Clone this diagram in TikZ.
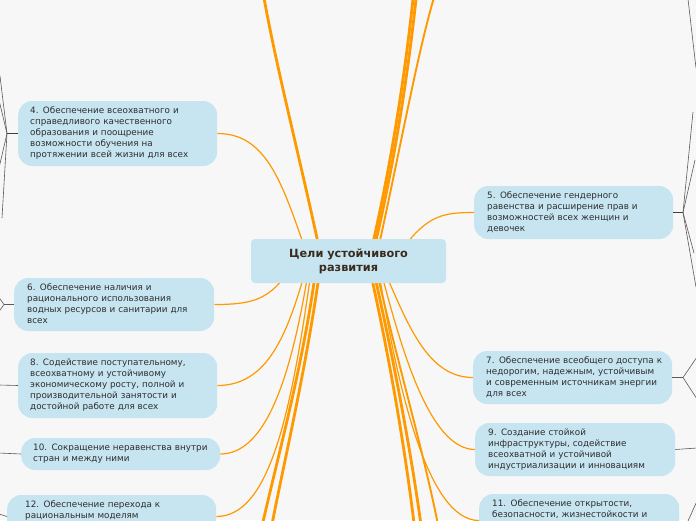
\documentclass[tikz,border=0pt]{standalone}
\usepackage{fontspec}
\setmainfont{DejaVu Sans}
\pgfdeclarelayer{back}
\pgfdeclarelayer{bg}
\pgfsetlayers{back,bg,main}
\definecolor{bgc}{HTML}{F7F7F7}
\definecolor{boxc}{HTML}{C6E5F0}
\definecolor{orc}{HTML}{FF9900}
\definecolor{txc}{HTML}{2E2E2E}
\definecolor{roottx}{HTML}{3B2A1E}
\definecolor{grc}{HTML}{5A5A5A}
\newcommand\gtext[1]{\begin{tabular}{@{}l@{}}#1\end{tabular}}
\begin{document}
\begin{tikzpicture}[x=1pt,y=-1pt,
  goal/.style={fill=boxc, rounded corners=14pt, text=txc, align=left,
    font=\fontsize{8.8}{11}\selectfont, inner ysep=0pt, anchor=west},
  rootbox/.style={fill=boxc, rounded corners=4pt, text=roottx, align=center,
    font=\fontsize{11.3}{14}\selectfont\bfseries, minimum width=195pt,
    minimum height=44pt, inner sep=0pt},
  oline/.style={draw=orc, line width=1.2pt},
  othick/.style={draw=orc, line width=2.8pt},
  omid/.style={draw=orc, line width=1.9pt},
  gline/.style={draw=grc, line width=0.6pt},
  gstub/.style={draw=black!75, line width=1.1pt}]
\useasboundingbox (0,0) rectangle (696,520);
\begin{pgfonlayer}{back}
  \fill[bgc] (0,0) rectangle (696,520);
\end{pgfonlayer}

% root
\node[rootbox] (root) at (348.5,261) {Цели устойчивого\\развития};

% goals left
\node[goal, text width=175pt, inner xsep=12pt, minimum height=65pt] (g4) at (18,133.5)
  {\gtext{4. Обеспечение всеохватного и\\справедливого качественного\\образования и поощрение\\возможности обучения на\\протяжении всей жизни для всех}};
\node[goal, text width=174pt, inner xsep=13pt, minimum height=53pt] (g6) at (14,304.5)
  {\gtext{6. Обеспечение наличия и\\рационального использования\\водных ресурсов и санитарии для\\всех}};
\node[goal, text width=175pt, inner xsep=12pt, minimum height=65pt] (g8) at (18,385.5)
  {\gtext{8. Содействие поступательному,\\всеохватному и устойчивому\\экономическому росту, полной и\\производительной занятости и\\достойной работе для всех}};
\node[goal, text width=175pt, inner xsep=12pt, minimum height=32pt] (g10) at (21,454)
  {\gtext{10. Сокращение неравенства внутри\\стран и между ними}};
\node[goal, text width=173pt, inner xsep=18pt, minimum height=43pt] (g12) at (7,516.5)
  {\gtext{12. Обеспечение перехода к\\рациональным моделям\\потребления и производства}};

% goals right
\node[goal, text width=173pt, inner xsep=13pt, minimum height=53pt] (g5) at (474,212.5)
  {\gtext{5. Обеспечение гендерного\\равенства и расширение прав и\\возможностей всех женщин и\\девочек}};
\node[goal, text width=173pt, inner xsep=13pt, minimum height=53pt] (g7) at (473,377.5)
  {\gtext{7. Обеспечение всеобщего доступа к\\недорогим, надежным, устойчивым\\и современным источникам энергии\\для всех}};
\node[goal, text width=174pt, inner xsep=13pt, minimum height=53pt] (g9) at (475,449.5)
  {\gtext{9. Создание стойкой\\инфраструктуры, содействие\\всеохватной и устойчивой\\индустриализации и инновациям}};
\node[goal, text width=174pt, inner xsep=13pt, minimum height=53pt] (g11) at (479,520.5)
  {\gtext{11. Обеспечение открытости,\\безопасности, жизнестойкости и\\экологической устойчивости\\городов и населенных пунктов}};

% off-screen ends
\coordinate (up1) at (261,-20);
\coordinate (up2) at (415,-20);
\coordinate (up3) at (418,-20);
\coordinate (up4) at (437,-12);
\coordinate (dn1) at (259,540);
\coordinate (dn2) at (269,540);
\coordinate (dn3) at (416,540);
\coordinate (dn4) at (423,540);
\coordinate (dn5) at (441,540);

\begin{pgfonlayer}{bg}
  % top
  \draw[othick] ([xshift=-30.5pt,yshift=-4pt]root.north) .. controls (298,150) and (272,50) .. (up1);
  \draw[othick] ([xshift=24.5pt,yshift=-4pt]root.north) .. controls (394,150) and (407,60) .. (up2);
  \draw[othick] ([xshift=27pt,yshift=-4pt]root.north) .. controls (397,150) and (410,60) .. (up3);
  \draw[omid] ([xshift=31pt,yshift=-4pt]root.north) .. controls (402,140) and (420,40) .. (up4);
  \draw[oline] ([xshift=-45.5pt,yshift=-4pt]root.north) .. controls (281,180) and (265,133.5) .. (g4.east);
  \draw[oline] ([xshift=59.5pt,yshift=-3pt]root.north) .. controls (430,215) and (445,212.5) .. (g5.west);
  % bottom left
  \draw[oline] ([xshift=-66.5pt,yshift=3pt]root.south) .. controls (265,300) and (250,304.5) .. (g6.east);
  \draw[oline] ([xshift=-45.5pt,yshift=4pt]root.south) .. controls (285,340) and (265,385.5) .. (g8.east);
  \draw[oline] ([xshift=-41.5pt,yshift=4pt]root.south) .. controls (290,380) and (265,454) .. (g10.east);
  \draw[oline] ([xshift=-38.5pt,yshift=4pt]root.south) .. controls (290,420) and (268,516.5) .. (g12.east);
  \draw[othick] ([xshift=-34pt,yshift=4pt]root.south) .. controls (300,380) and (274,470) .. (dn1);
  \draw[othick] ([xshift=-30pt,yshift=4pt]root.south) .. controls (304,380) and (282,470) .. (dn2);
  % bottom right
  \draw[oline] ([xshift=39.5pt,yshift=4pt]root.south) .. controls (410,330) and (430,377.5) .. (g7.west);
  \draw[oline] ([xshift=34.5pt,yshift=4pt]root.south) .. controls (402,350) and (430,449.5) .. (g9.west);
  \draw[oline] ([xshift=31.5pt,yshift=4pt]root.south) .. controls (400,400) and (430,520.5) .. (g11.west);
  \draw[othick] ([xshift=23.5pt,yshift=4pt]root.south) .. controls (394,380) and (408,470) .. (dn3);
  \draw[othick] ([xshift=27pt,yshift=4pt]root.south) .. controls (398,380) and (414,470) .. (dn4);
  \draw[omid] ([xshift=30pt,yshift=4pt]root.south) .. controls (402,380) and (426,460) .. (dn5);
\end{pgfonlayer}

% grey connectors, left
\coordinate (j4) at (7,133.5);
\coordinate (a1) at (0,76);
\coordinate (a2) at (-1,100);
\coordinate (a3) at (-1,168);
\coordinate (a4) at (2,218);
\draw[gstub] (g4.west) -- (j4);
\draw[gline] (j4) -- (a1);
\draw[gline] (j4) -- (a2);
\draw[gline] (j4) -- (a3);
\draw[gline] (j4) -- (a4);
\coordinate (j6) at (4,304.5);
\coordinate (b1) at (-2,296);
\coordinate (b2) at (-2,313);
\draw[gline] (g6.west) -- (j6);
\draw[gline] (j6) -- (b1);
\draw[gline] (j6) -- (b2);
\coordinate (c8) at (-1,385);
\draw[gline] (g8.west) -- (c8);
\coordinate (c10) at (-1,453);
\draw[gline] (g10.west) -- (c10);
\coordinate (c12) at (-1,514);
\draw[gline] (g12.west) -- (c12);

% grey connectors, right
\coordinate (j5) at (683,212.5);
\coordinate (d1) at (693,112);
\coordinate (d2) at (695,160);
\coordinate (d3) at (694,253);
\coordinate (d4) at (696,287);
\draw[gstub] (g5.east) -- (j5);
\draw[gline] (j5) -- (d1);
\draw[gline] (j5) -- (d2);
\draw[gline] (j5) -- (d3);
\draw[gline] (j5) -- (d4);
\coordinate (e1) at (688,-1);
\coordinate (e2) at (696,68);
\draw[gline] (e1) -- (e2);
\coordinate (j7) at (683,377.5);
\coordinate (f1) at (697,357);
\coordinate (f2) at (697,399);
\draw[gline] (g7.east) -- (j7);
\draw[gline] (j7) -- (f1);
\draw[gline] (j7) -- (f2);
\coordinate (h9) at (697,448);
\draw[gline] (g9.east) -- (h9);
\coordinate (k1) at (688,521);
\coordinate (k2) at (697,501);
\draw[gline] (k1) -- (k2);
\end{tikzpicture}
\end{document}
